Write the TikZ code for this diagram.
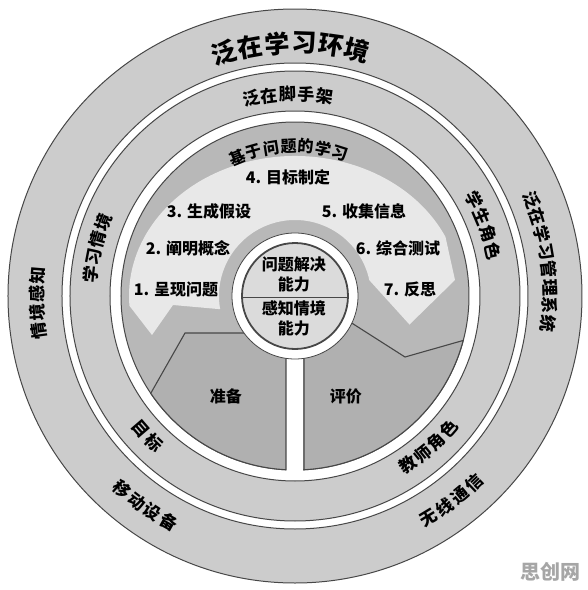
\documentclass[tikz,border=0pt]{standalone}
\usepackage{fontspec}
\setmainfont{Noto Sans CJK SC}

\definecolor{ringgray}{gray}{0.80}
\definecolor{diskgray}{gray}{0.72}
\definecolor{arrowgray}{gray}{0.91}
\definecolor{sectorgray}{gray}{0.69}
\definecolor{coregray}{gray}{0.86}
\definecolor{edgegray}{gray}{0.28}

\tikzset{
  ring/.style={fill=ringgray, draw=edgegray, line width=1pt},
  gap/.style={fill=white, draw=edgegray, line width=1pt},
  disk/.style={fill=diskgray, draw=edgegray, line width=1pt},
  sector/.style={fill=sectorgray, draw=edgegray, line width=1.1pt},
  steptext/.style={font=\fontsize{16}{20}\selectfont\bfseries},
  coretext/.style={font=\fontsize{16}{20}\selectfont\bfseries, align=center},
  ringchar/.style={inner sep=0pt}
}

% one word set along a circle, character by character
% #1 name, #2 first angle, #3 angle step, #4 radius, #5 font size, #6 turn, #7 characters
\newcommand{\ringword}[7]{%
  \foreach \ch [count=\k from 0] in {#7}
    \node[ringchar, font=\fontsize{#5}{#5}\selectfont\bfseries, rotate={#2+\k*(#3)+#6}] (#1-\k) at ({#2+\k*(#3)}:#4pt) {\ch};%
}

\begin{document}
\begin{tikzpicture}[x=1pt, y=1pt]
				\useasboundingbox (-295,-294) rectangle (293,296);
				
				% Rings
				\draw[ring] (0,0) circle (287pt);
				\draw[gap] (0,0) circle (233pt);
				\draw[ring] (0,0) circle (225pt);
				\draw[gap] (0,0) circle (185pt);
				\draw[disk] (0,0) circle (174pt);
				
				% Light arrow (tail on the left, head on the right)
				\fill[arrowgray] (25:166pt and 140pt) arc[start angle=25, end angle=184, x radius=166pt, y radius=140pt]
					-- (-143,-39) -- (-122,-9) -- (190:76pt) arc[start angle=190, end angle=12, radius=76pt]
					-- (-14:118pt) -- (160,16) -- cycle;
				
				% Stem
				\fill[white] (-8.5,-40) rectangle (8.5,-180);
				
				% Sectors
				\draw[sector] (214:174pt) -- (-110,-37) -- (-50,-37) -- (-9,-50) -- (-9,-173.77)
					arc[start angle=267.03, end angle=214, radius=174pt] -- cycle;
				\draw[sector] (52,-24) -- (110,-61) -- (-14.8:174pt)
					arc[start angle=-14.8, end angle=-87.03, radius=174pt] -- (9,-50) -- cycle;
				
				% Core circle
				\draw[fill=white, draw=edgegray, line width=0.8pt] (0,0) circle (63pt);
				\draw[fill=coregray, draw=edgegray, line width=1.8pt] (0,0) circle (53pt);
				\draw[edgegray, line width=0.8pt] (-53,-1) -- (53,-1);
				
				\node[coretext] (solve) at (-1,21.5) {问题解决\\能力};
				\node[coretext] (sense) at (-1,-22.5) {感知情境\\能力};
				
				% Steps
				\node[steptext] (s1) at (-119,7) {1. 呈现问题};
				\node[steptext] (s2) at (-107,48) {2. 阐明概念};
				\node[steptext] (s3) at (-86,85) {3. 生成假设};
				\node[steptext] (s4) at (-7,119) {4. 目标制定};
				\node[steptext] (s5) at (69,85) {5. 收集信息};
				\node[steptext] (s6) at (103,48) {6. 综合测试};
				\node[steptext] (s7) at (115,7) {7. 反思};
				
				\node[steptext] (prep) at (-69,-100) {准备};
				\node[steptext] (eval) at (51,-100) {评价};
				
				% Words along the rings
				\ringword{env}{106.3}{-6.11}{253}{25}{-90}{泛,在,学,习,环,境}
				\ringword{scaf}{102.5}{-5.25}{202}{17}{-90}{泛,在,脚,手,架}
				\ringword{pbl}{112.5}{-6.68}{150}{16}{-90}{基,于,问,题,的,学,习}
				\ringword{ctx}{174}{-5.03}{205}{17}{-90}{学,习,情,境}
				\ringword{stu}{28.1}{-5.08}{203}{17}{-90}{学,生,角,色}
				\ringword{goal}{220.8}{5.34}{204}{17}{90}{目,标}
				\ringword{tea}{-56.1}{5.08}{203}{17}{90}{教,师,角,色}
				\ringword{aware}{187.7}{-4.11}{258}{17}{-90}{情,境,感,知}
				\ringword{lms}{22.1}{-4.04}{255}{17}{-90}{泛,在,学,习,管,理,系,统}
				\ringword{dev}{228.2}{4.2}{259}{17}{90}{移,动,设,备}
				\ringword{wifi}{-58.8}{4.2}{259}{17}{90}{无,线,通,信}
				
				% Watermark
				\node[text=gray!70, font=\fontsize{20}{20}\selectfont\bfseries] (mark) at (256,-276) {思创网};
			\end{tikzpicture}
\end{document}
